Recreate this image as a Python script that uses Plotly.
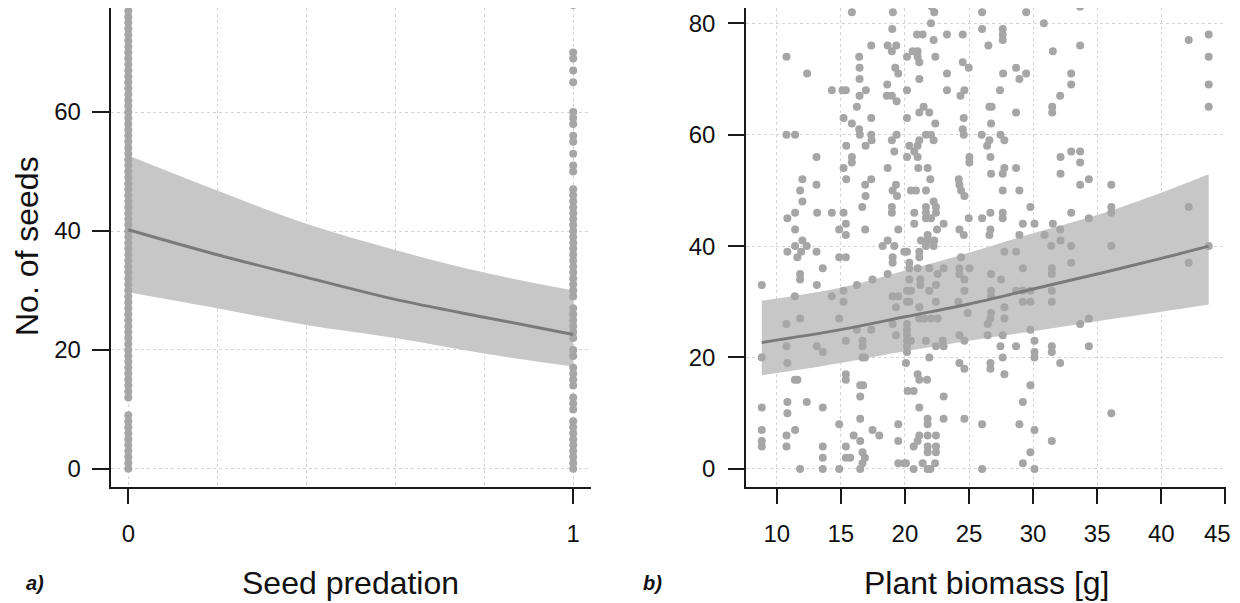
import plotly.graph_objects as go

# ---------------- Panel a: seed predation ----------------
seeds_pred0 = [0, 1, 2, 3, 4, 5, 6, 7, 8, 9, 12, 13, 14, 15, 16, 17, 18, 19, 20, 21, 22, 23, 24, 25,
               26, 27, 28, 29, 30, 31, 32, 33, 34, 35, 36, 37, 38, 39, 40, 41, 42, 43, 44, 45, 46,
               47, 48, 49, 50, 51, 52, 53, 54, 55, 56, 57, 58, 59, 60, 61, 62, 63, 64, 65, 66, 67,
               68, 69, 70, 71, 72, 73, 74, 75, 76, 77, 78, 79, 80]
seeds_pred1 = [0, 1, 2, 3, 4, 5, 6, 7, 8, 10, 11, 12, 14, 15, 16, 17, 19, 20, 22, 23, 24, 25, 26, 27,
               29, 30, 31, 32, 33, 34, 35, 36, 37, 38, 39, 40, 41, 42, 43, 44, 45, 46, 47, 50, 51,
               53, 55, 56, 58, 59, 60, 65, 67, 69, 70, 78]
pred_ticks = [0, 1]

pred_fit_x = [0, 0.2, 0.4, 0.6, 0.8, 1.0]
pred_fit = [40.2, 36.0, 32.2, 28.5, 25.5, 22.6]
pred_lo = [29.7, 27.0, 24.2, 22.0, 19.4, 17.2]
pred_hi = [52.7, 46.8, 41.2, 36.8, 33.0, 30.0]

# ---------------- Panel b: plant biomass ----------------
biomass = [
    # x < 20, seeds >= 42
    15.86, 19.06, 19.01, 17.37, 18.65, 19.32, 18.98, 10.76, 16.43, 12.37, 16.46, 19.24, 19.48, 16.46,
    14.30, 15.13, 15.39, 16.95, 16.46, 18.62, 18.59, 18.98, 19.35, 16.25, 15.21, 17.37, 15.86, 16.43,
    16.48, 10.76, 11.43, 17.37, 17.40, 19.35, 18.98, 16.93, 15.42, 19.17, 13.10, 15.86, 15.86, 15.21,
    18.65, 12.00, 15.42, 17.37, 13.10, 16.90, 19.30, 11.82, 19.04, 19.38, 16.93, 12.00, 16.67, 18.98,
    18.98, 10.83, 11.43, 13.15, 14.30, 15.21, 15.39, 11.43, 14.87, 15.39, 16.90, 19.48,
    # x < 20, seeds <= 41
    11.43, 12.00, 12.34, 10.83, 11.61, 13.10, 14.87, 15.39, 18.26, 18.65, 19.17, 19.04, 19.04, 19.95,
    13.59, 11.82, 11.82, 8.83, 13.13, 16.25, 17.47, 18.65, 11.41, 14.30, 15.21, 15.21, 19.04, 19.48,
    19.30, 10.76, 11.82, 14.87, 16.25, 17.37, 19.04, 19.30, 15.39, 10.76, 13.13, 13.59, 16.69, 16.69,
    16.69, 16.88, 8.83, 10.83, 11.41, 11.61, 15.39, 15.39, 16.51, 16.74, 16.51, 8.83, 10.83, 10.83,
    12.34, 13.59, 16.51, 14.87, 19.48, 8.83, 11.43, 17.47, 18.00, 16.00, 8.83, 8.83, 10.76, 10.76,
    13.59, 15.39, 16.51, 19.48, 13.59, 15.39, 15.73, 16.69, 16.88, 16.69, 16.51, 11.82, 13.59, 14.87,
    19.48, 19.95, 11.90,
    # 20 <= x < 32.5, seeds >= 41
    22.10, 22.29, 26.02, 29.46, 22.03, 30.84, 20.94, 21.38, 23.28, 24.51, 26.02, 27.63, 27.63, 27.63,
    22.24, 26.51, 31.54, 20.60, 20.99, 20.99, 20.16, 22.37, 21.12, 24.51, 24.98, 23.28, 27.66, 28.67,
    29.46, 28.93, 21.12, 20.16, 23.28, 24.64, 24.33, 27.42, 32.11, 26.59, 26.77, 31.49, 31.49, 28.67,
    21.12, 21.46, 21.90, 20.16, 22.37, 24.59, 26.72, 24.51, 24.59, 25.99, 27.45, 21.64, 22.03, 21.12,
    22.24, 27.76, 26.59, 26.41, 20.34, 20.99, 20.73, 20.16, 20.99, 25.03, 25.03, 26.67, 32.14, 21.04,
    21.77, 27.76, 28.67, 26.72, 27.63, 32.14, 21.98, 24.20, 24.25, 24.38, 24.64, 20.47, 20.86, 21.64,
    27.63, 28.93, 29.79, 22.24, 21.64, 22.42, 21.64, 22.42, 20.73, 22.03, 21.64, 20.73, 23.02, 24.98,
    26.02, 26.67, 27.63, 27.63, 29.20, 30.11, 31.54, 22.50, 24.25, 24.59, 26.67, 26.59, 28.93, 30.89,
    32.11, 21.25, 21.77, 22.29, 32.14,
    # 20 <= x < 32.5, seeds <= 40
    20.16, 21.12, 21.12, 21.64, 21.77, 22.24, 24.38, 27.76, 28.67, 31.41, 20.34, 20.34, 20.99, 21.90,
    22.55, 23.02, 24.25, 24.25, 25.03, 26.72, 27.50, 29.20, 31.46, 31.46, 20.34, 21.20, 21.20, 22.42,
    24.64, 24.64, 20.16, 20.47, 21.90, 26.72, 26.72, 28.67, 29.20, 29.79, 29.20, 29.79, 31.46, 31.46,
    20.16, 20.34, 22.42, 24.17, 21.12, 24.90, 27.76, 26.72, 21.12, 21.51, 22.03, 22.55, 20.16, 26.67,
    27.76, 26.46, 29.79, 20.16, 20.16, 24.25, 26.46, 27.63, 20.16, 20.47, 21.64, 22.95, 24.64, 20.16,
    22.42, 23.02, 27.45, 28.67, 30.11, 30.11, 30.11, 31.46, 31.46, 20.16, 21.90, 27.63, 20.08, 24.25,
    24.64, 26.67, 26.67, 27.76, 32.11, 20.99, 21.12, 21.72, 20.21, 20.68, 29.79, 23.02, 29.20, 21.12,
    21.77, 21.77, 23.02, 24.64, 26.02, 28.93, 30.11, 21.12, 21.77, 22.42, 20.99, 20.68, 21.77, 22.42,
    21.77, 22.42, 31.46, 29.79, 20.08, 21.38, 22.35, 29.20, 20.68, 21.77, 21.98, 26.02, 30.11,
    # x >= 32.5
    32.97, 36.10, 43.70, 32.97, 42.14, 33.67, 34.35, 34.35, 36.10,
    33.67, 33.67, 32.97, 32.97, 32.97, 33.67, 33.67, 33.67, 34.35, 36.10, 32.97, 34.35, 36.10, 36.10,
    42.14, 43.70, 43.70, 43.70, 43.70, 42.14,
]
seeds_b = [
    82, 82, 79, 76, 76, 76, 75, 74, 74, 71, 72, 72, 71, 70,
    68, 68, 68, 68, 67, 69, 67, 67, 66, 65, 63, 63, 62, 61,
    60, 60, 60, 60, 59, 60, 59, 58, 58, 57, 56, 56, 55, 54,
    54, 52, 52, 52, 51, 51, 51, 50, 50, 49, 49, 48, 47, 47,
    46, 45, 46, 46, 46, 46, 44, 43, 43, 42, 43, 43,
    40, 41, 40, 39, 38, 39, 38, 38, 40, 41, 40, 38, 37, 39,
    36, 35, 34, 33, 33, 33, 34, 35, 31, 31, 32, 30, 31, 31,
    29, 26, 27, 27, 25, 25, 26, 24, 23, 22, 22, 21, 23, 22,
    20, 20, 20, 19, 16, 16, 17, 16, 15, 15, 13, 11, 12, 10,
    12, 11, 9, 8, 8, 7, 7, 7, 6, 6, 5, 4, 6, 4,
    4, 4, 5, 5, 2, 2, 2, 3, 2, 1, 0, 0, 0, 0,
    1, 1, 39,
    83, 82, 82, 82, 80, 80, 78, 78, 78, 78, 79, 79, 78, 77,
    77, 76, 75, 75, 75, 74, 74, 74, 73, 73, 72, 71, 71, 72,
    71, 70, 70, 68, 68, 68, 67, 68, 67, 65, 65, 65, 64, 64,
    64, 65, 64, 63, 62, 63, 62, 61, 60, 60, 60, 60, 60, 59,
    59, 59, 59, 58, 58, 58, 57, 56, 56, 56, 55, 56, 56, 54,
    54, 54, 54, 53, 53, 53, 52, 52, 51, 50, 49, 50, 50, 50,
    50, 50, 47, 48, 47, 47, 46, 46, 46, 45, 45, 44, 44, 45,
    45, 46, 46, 45, 44, 44, 44, 43, 43, 42, 43, 42, 42, 42,
    43, 41, 42, 41, 41,
    39, 39, 38, 40, 41, 40, 38, 39, 39, 40, 37, 36, 36, 36,
    35, 36, 36, 35, 36, 35, 34, 36, 36, 35, 34, 34, 33, 33,
    34, 32, 32, 32, 32, 32, 31, 32, 32, 32, 30, 30, 32, 30,
    30, 30, 30, 30, 29, 28, 29, 28, 27, 27, 27, 27, 26, 27,
    27, 26, 25, 25, 24, 24, 24, 24, 23, 23, 23, 23, 23, 22,
    22, 22, 22, 22, 23, 21, 20, 22, 21, 21, 20, 20, 19, 19,
    18, 19, 18, 17, 19, 17, 16, 16, 14, 14, 15, 13, 12, 11,
    9, 8, 9, 9, 8, 8, 7, 6, 6, 6, 5, 4, 4, 4,
    3, 3, 5, 3, 1, 1, 1, 1, 0, 0, 0, 0, 0,
    40, 40, 40, 37, 37, 26, 27, 22, 10,
    83, 76, 71, 69, 57, 57, 55, 51, 52, 51, 46, 45, 47, 46,
    77, 78, 74, 69, 65, 47,
]
bio_ticks = [10, 15, 20, 25, 30, 35, 40, 45]
# the last label would overflow the page, so it is drawn as an annotation hugging the edge
bio_ticktext = ["10", "15", "20", "25", "30", "35", "40", ""]
last_bio_label = "45"

bio_fit_x = [8.83, 15, 20, 25, 30, 35, 40, 43.7]
bio_fit = [22.7, 25.0, 27.3, 29.6, 32.3, 35.0, 37.8, 40.0]
bio_lo = [16.8, 19.0, 21.1, 23.0, 24.7, 26.5, 28.2, 29.5]
bio_hi = [30.2, 32.5, 35.6, 38.8, 42.3, 45.6, 49.6, 52.9]

# ---------------- styling ----------------
DOT = "#A6A6A6"
BAND = "#C7C7C7"
LINE = "#7A7A7A"
AX = "#1a1a1a"
GRID = "#D4D4D4"
FONT = "Liberation Sans, Arial, sans-serif"

fig = go.Figure()

# panel a
fig.add_trace(go.Scatter(x=pred_fit_x, y=pred_hi, mode="lines", line=dict(width=0, shape="spline"),
                         hoverinfo="skip", xaxis="x", yaxis="y"))
fig.add_trace(go.Scatter(x=pred_fit_x, y=pred_lo, mode="lines", line=dict(width=0, shape="spline"),
                         fill="tonexty", fillcolor=BAND, hoverinfo="skip", xaxis="x", yaxis="y"))
fig.add_trace(go.Scatter(x=[0] * len(seeds_pred0) + [1] * len(seeds_pred1),
                         y=seeds_pred0 + seeds_pred1, mode="markers",
                         marker=dict(size=8, color=DOT), xaxis="x", yaxis="y"))
fig.add_trace(go.Scatter(x=pred_fit_x, y=pred_fit, mode="lines",
                         line=dict(width=3, color=LINE, shape="spline"), xaxis="x", yaxis="y"))

# panel b
fig.add_trace(go.Scatter(x=bio_fit_x, y=bio_hi, mode="lines", line=dict(width=0, shape="spline"),
                         hoverinfo="skip", xaxis="x2", yaxis="y2"))
fig.add_trace(go.Scatter(x=bio_fit_x, y=bio_lo, mode="lines", line=dict(width=0, shape="spline"),
                         fill="tonexty", fillcolor=BAND, hoverinfo="skip", xaxis="x2", yaxis="y2"))
fig.add_trace(go.Scatter(x=biomass, y=seeds_b, mode="markers",
                         marker=dict(size=8, color=DOT), xaxis="x2", yaxis="y2"))
fig.add_trace(go.Scatter(x=bio_fit_x, y=bio_fit, mode="lines",
                         line=dict(width=3, color=LINE, shape="spline"), xaxis="x2", yaxis="y2"))

# the page has an 8px body margin; figure coordinates = page coordinates - 8
OFF = 8
W, H = 1224, 595


def fx(px):
    return (px - OFF) / W


def fy(py):
    return 1 - (py - OFF) / H


ydom = [fy(486.7), 1.0]

common = dict(showline=True, linecolor=AX, linewidth=1.6, ticks="outside", tickcolor=AX,
              tickwidth=1.6, showgrid=True, gridcolor=GRID, griddash="dot", gridwidth=1,
              zeroline=False, tickfont=dict(size=24, color="#111", family=FONT), mirror=False)

fig.update_layout(
    width=W, height=H, showlegend=False, autosize=False,
    margin=dict(l=0, r=0, t=0, b=0),
    paper_bgcolor="white", plot_bgcolor="white",
    font=dict(family=FONT, color="#111"),
    xaxis=dict(domain=[fx(110.5), fx(591)], range=[-0.04, 1.04], tickvals=pred_ticks,
               ticktext=[str(v) for v in pred_ticks],
               ticklen=15, ticklabelstandoff=10, anchor="y",
               minor=dict(tickvals=[0.2, 0.4, 0.6, 0.8], showgrid=True, gridcolor=GRID,
                          griddash="dot", gridwidth=1, ticklen=0), **common),
    yaxis=dict(domain=ydom, range=[-3, 77.5], tickvals=[0, 20, 40, 60], ticklen=17,
               ticklabelstandoff=6, anchor="x", **common),
    xaxis2=dict(domain=[fx(746), fx(1226)], range=[7.6, 45.05], tickvals=bio_ticks, ticktext=bio_ticktext,
                ticklen=15, ticklabelstandoff=10, anchor="y2", **common),
    yaxis2=dict(domain=ydom, range=[-3.2, 82.75], tickvals=[0, 20, 40, 60, 80], ticklen=16,
                ticklabelstandoff=8, anchor="x2", **common),
    annotations=[
        dict(text=last_bio_label, x=1.0, y=fy(533), xref="paper", yref="paper", borderpad=0,
             showarrow=False, font=dict(size=24, family=FONT, color="#111"), xanchor="right", yanchor="middle"),
        dict(text="Seed predation", x=fx(350.75), y=fy(583), xref="paper", yref="paper",
             showarrow=False, font=dict(size=32, family=FONT, color="#111"), xanchor="center", yanchor="middle"),
        dict(text="Plant biomass [g]", x=fx(986), y=fy(583), xref="paper", yref="paper",
             showarrow=False, font=dict(size=32, family=FONT, color="#111"), xanchor="center", yanchor="middle"),
        dict(text="No. of seeds", x=0, y=fy(246), xref="paper", yref="paper", textangle=-90, borderpad=0,
             showarrow=False, font=dict(size=32, family=FONT, color="#111"), xanchor="left", yanchor="middle"),
        dict(text="<b><i>a)</i></b>", x=fx(35), y=fy(583), xref="paper", yref="paper",
             showarrow=False, font=dict(size=20, family=FONT, color="#111"), xanchor="center", yanchor="middle"),
        dict(text="<b><i>b)</i></b>", x=fx(652), y=fy(583), xref="paper", yref="paper",
             showarrow=False, font=dict(size=20, family=FONT, color="#111"), xanchor="center", yanchor="middle"),
    ],
)

fig.write_html("out.html")
